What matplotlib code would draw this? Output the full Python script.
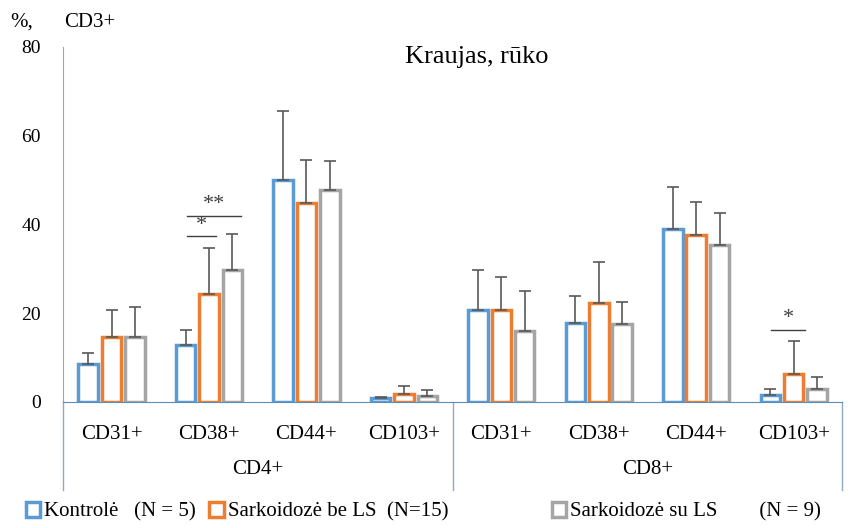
import numpy as np
import matplotlib.pyplot as plt
from matplotlib.patches import Patch

plt.rcParams['font.family'] = ['Liberation Serif', 'DejaVu Serif']

markers = ["CD31+", "CD38+", "CD44+", "CD103+", "CD31+", "CD38+", "CD44+", "CD103+"]
groups = ["CD4+", "CD8+"]

kontrole = [8.6, 12.8, 50.0, 0.9, 20.7, 17.8, 39.0, 1.6]
kontrole_err = [2.4, 3.4, 15.5, 0.2, 9.0, 6.1, 9.4, 1.3]
be_ls = [14.6, 24.3, 44.8, 1.8, 20.7, 22.3, 37.6, 6.3]
be_ls_err = [6.1, 10.4, 9.7, 1.8, 7.5, 9.2, 7.4, 7.4]
su_ls = [14.6, 29.7, 47.7, 1.4, 16.0, 17.6, 35.4, 2.9]
su_ls_err = [6.8, 8.1, 6.6, 1.3, 9.0, 4.9, 7.2, 2.7]

series = [
    ("Kontrolė   (N = 5)", kontrole, kontrole_err, "#5B9BD5"),
    ("Sarkoidozė be LS  (N=15)", be_ls, be_ls_err, "#ED7D31"),
    ("Sarkoidozė su LS        (N = 9)", su_ls, su_ls_err, "#A5A5A5"),
]
legend_x = [0.030, 0.246, 0.649]

fig = plt.figure(figsize=(8.5, 5.28), dpi=100)
ax = fig.add_axes([0.074, 0.239, 0.917, 0.672])

x = np.arange(len(markers))
w = 0.2
step = 0.24
for i, (lab, vals, errs, col) in enumerate(series):
    xs = x + (i - 1) * step
    ax.bar(xs, vals, width=w, facecolor="white", edgecolor=col, linewidth=2.5, zorder=2)
    ax.errorbar(xs, vals, yerr=[np.zeros(len(errs)), errs], fmt="none",
                ecolor="#595959", elinewidth=1.2, capsize=4, capthick=1.2, zorder=3)
    h = Patch(facecolor="white", edgecolor=col, linewidth=2.5, label=lab)
    fig.legend(handles=[h], loc="center left", bbox_to_anchor=(legend_x[i], 0.03),
               frameon=False, fontsize=15, handlelength=0.7, handleheight=0.7,
               handletextpad=0.2, borderpad=0, borderaxespad=0)

# significance marks
def sig(x0, x1, y, txt):
    ax.plot([x0, x1], [y, y], color="#404040", lw=1.0)
    ax.text((x0 + x1) / 2, y + 0.3, txt, ha="center", va="bottom", fontsize=16, color="#404040")

sig(0.77, 1.33, 42.0, "**")
sig(0.77, 1.07, 37.3, "*")
sig(6.77, 7.12, 16.3, "*")

ax.set_xlim(-0.5, len(markers) - 0.5)
ax.set_ylim(0, 80)
ax.set_yticks([0, 20, 40, 60, 80])
ax.tick_params(axis="y", length=0, labelsize=14, pad=16)
ax.set_xticks(x)
ax.set_xticklabels(markers, fontsize=15)
ax.tick_params(axis="x", length=0, pad=17)

for s in ["top", "right"]:
    ax.spines[s].set_visible(False)
ax.spines["left"].set_color("#8EA9C1")
ax.spines["bottom"].set_color("#5B8DB8")

# group dividers and labels
trans = ax.get_xaxis_transform()
for xv in [-0.5, 3.5, 7.5]:
    ax.plot([xv, xv], [0, -0.248], transform=trans, color="#8EA9C1", lw=1.0, clip_on=False)
for gi, g in enumerate(groups):
    ax.text(1.5 + 4 * gi, -0.19, g, transform=trans, ha="center", va="center", fontsize=15)

fig.text(0.561, 0.892, "Kraujas, rūko", fontsize=19, ha="center", va="center")
fig.text(0.012, 0.958, "%,", fontsize=15, va="center")
fig.text(0.076, 0.958, "CD3+", fontsize=15, va="center")

fig.savefig("out.png", dpi=100)
